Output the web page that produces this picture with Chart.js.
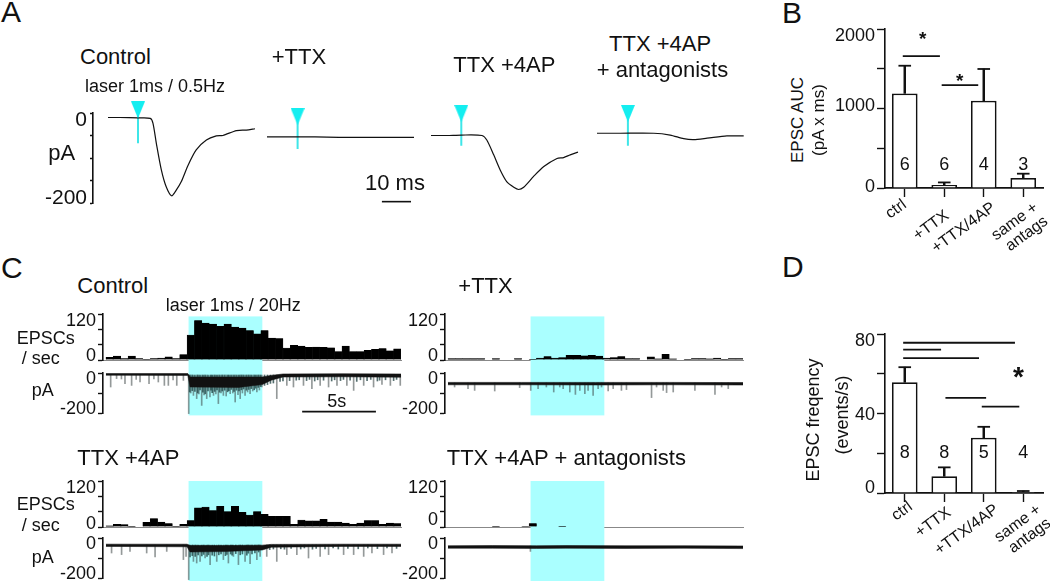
<!DOCTYPE html>
<html>
<head>
<meta charset="utf-8">
<script src="https://cdn.jsdelivr.net/npm/chart.js@4"></script>
<style>
  html, body { margin: 0; padding: 0; background: #fff; width: 1050px; height: 581px; overflow: hidden; }
  canvas { position: absolute; }
  .t { position: absolute; white-space: nowrap; line-height: 1; color: #111; font-family: "Liberation Sans", Arial, sans-serif; }
</style>
</head>
<body>
<script>
// ---------- panel A : evoked EPSC traces (ms, pA)
const aCtrlT = [0, 3.9, 10, 14.1, 15, 16.1, 17.8, 19.4, 21.2, 22.8, 24.4, 26.7, 29.4, 32.8, 36.1, 38.3, 42.8, 46.1, 49];
const aCtrlV = [-10, -10, -11, -12, -23, -67, -127, -164, -184, -171, -153, -116, -82, -60, -51, -50, -39, -38, -35];
const aTtxT = [0, 8, 16, 24, 32, 40, 49];
const aTtxV = [-53, -53, -53, -54, -54, -54, -54];
const aApT = [0, 5.3, 10.1, 17, 18.6, 20.9, 23.1, 25.3, 27.6, 29.2, 30.9, 34.2, 37.6, 42, 44.2, 46.4, 49];
const aApV = [-50, -50, -49, -50, -60, -93, -127, -153, -165, -170, -165, -141, -119, -101, -99, -93, -87];
const aAntT = [0, 7.8, 18.9, 24.4, 28.9, 32.2, 36.7, 43.3, 48.9];
const aAntV = [-45, -45, -45, -49, -57, -59, -56, -51, -51];
// laser mark: time, arrow value, end of stem
const aLaser = { ctrl: [10, 7, -67], ttx: [10.2, -8, -80], ap: [10.1, -1, -73], ant: [10.3, -1, -73] };

// ---------- panels B and D
const groups = ['ctrl', '+TTX', '+TTX/4AP', ['same +', 'antags']];
const aucMean = [1190, 38, 1098, 126];
const aucErr = [1538, 70, 1497, 180];
const aucN = ['6', '6', '4', '3'];
const aucSig = [[-0.05, 0.89, 1660], [0.935, 1.86, 1295]];
const freqMean = [55.7, 8.4, 27.8, 0.5];
const freqErr = [63.3, 12.9, 33.3, 1];
const freqN = ['8', '8', '5', '4'];
const freqSig = [[-0.04, 2.79, 75.6], [-0.04, 0.92, 72.1], [-0.04, 1.88, 67.9], [1.03, 2.06, 47.9], [1.95, 2.9, 43.5]];

// ---------- panel C : histograms, one value per 0.5 s bin
const cCtrlBins = [7, 10, 4, 10, 4, 1, 4, 5, 8, 4, 14, 65, 103, 96, 94, 88, 94, 86, 83, 77, 68, 77, 57, 56, 31, 38, 36, 33, 34, 33, 32, 22, 36, 22, 22, 25, 28, 30, 24, 29];
const cTtxBins = [3.5, 3.5, 3.5, 3.5, 3.5, 0, 3.5, 0, 0, 3.5, 0, 1, 5, 9, 5, 6, 12, 12, 11, 12, 10, 5, 6, 9, 3.5, 3.5, 0, 8, 3, 15, 3, 0, 1, 4, 4, 3, 5, 2, 4, 4];
const cApBins = [3, 7, 6, 2, 0, 12, 22, 13, 9, 1, 7, 17, 50, 52, 43, 54, 40, 54, 38, 31, 40, 33, 28, 28, 28, 7, 18, 16, 16, 20, 13, 13, 10, 7, 10, 17, 17, 7, 10, 9];
const cAntBins = [0, 0, 0, 0, 0, 0, 2, 0, 0, 0, 1.5, 9, 0, 0, 0, 2, 0, 0, 0, 0, 0, 0, 0, 0, 0, 0, 0, 0, 0, 0, 0, 0, 0, 0, 0, 0, 0, 0, 0, 0];
const laserWindow = [5.6, 10.6];

// trace bands (s, pA)
const cCtrlBandT = [0, 5.55, 5.7, 9, 10.6, 11.2, 12, 16, 20];
const cCtrlBandHi = [-3, -3, -20, -20, -20, -12, -5, -4, -5];
const cCtrlBandLo = [-11, -12, -70, -72, -58, -36, -20, -19, -21];
const cTtxBandT = [0, 5, 10, 15, 20];
const cTtxBandHi = [-47, -47, -47, -47, -48];
const cTtxBandLo = [-59, -59, -60, -59, -60];
const cApBandT = [0, 5.5, 5.7, 8, 10.6, 11.2, 16, 20];
const cApBandHi = [-31, -31, -38, -38, -36, -32, -31, -31];
const cApBandLo = [-42, -44, -70, -68, -60, -46, -42, -42];
const cAntBandT = [0, 3, 6, 8, 12, 16, 20];
const cAntBandHi = [-39, -38, -39, -38, -39, -39, -40];
const cAntBandLo = [-51, -51, -52, -51, -52, -51, -53];

// spikes (s, pA)
const cCtrlSpikeT = [0.32, 0.72, 1.05, 1.29, 1.74, 2.05, 2.31, 2.92, 3.25, 3.55, 3.96, 4.23, 4.55, 4.8, 5.25,
  5.61, 5.75, 5.93, 6.15, 6.3, 6.49, 6.65, 6.83, 7.05, 7.29, 7.45, 7.62, 7.8, 7.96, 8.15, 8.42, 8.6, 8.76, 8.95, 9.1, 9.25, 9.43, 9.6, 9.77, 9.95, 10.23, 10.4, 10.57,
  11.58, 12.26, 12.71, 13.39, 13.96, 14.52, 15.09, 15.66, 16.33, 16.79, 17.47, 18.14, 18.71, 19.28, 19.95];
const cCtrlSpikeV = [-70, -28, -30, -53, -62, -32, -45, -53, -30, -45, -62, -62, -35, -62, -37,
  -203, -100, -112, -128, -105, -162, -110, -128, -120, -112, -105, -153, -100, -112, -115, -103, -100, -145, -108, -128, -100, -112, -95, -103, -90, -95, -85, -70,
  -128, -62, -70, -62, -78, -62, -70, -62, -62, -87, -62, -70, -57, -62, -62];
const cCtrlFineT = [5.68, 5.85, 6.03, 6.22, 6.38, 6.57, 6.73, 6.92, 7.12, 7.2, 7.37, 7.53, 7.7, 7.88, 8.05, 8.25, 8.33, 8.5, 8.68, 8.85, 9.02, 9.18, 9.33, 9.52, 9.68, 9.85, 10.05, 10.15, 10.32, 10.48,
  10.75, 10.95, 11.15, 11.35, 11.8, 12.0, 12.45, 12.9, 13.1, 13.6, 13.8, 14.15, 14.35, 14.75, 15.3, 15.5, 15.9, 16.1, 16.55, 17.0, 17.25, 17.7, 17.95, 18.4, 18.55, 18.95, 19.5, 19.7];
const cCtrlFineV = [-95, -88, -92, -100, -85, -96, -104, -90, -86, -98, -92, -84, -96, -90, -86, -94, -88, -82, -92, -86, -90, -84, -80, -86, -82, -78, -84, -76, -72, -68,
  -62, -58, -52, -50, -42, -40, -38, -36, -34, -38, -32, -40, -34, -36, -40, -34, -38, -32, -36, -42, -34, -38, -32, -40, -36, -34, -38, -32];
const cTtxSpikeT = [0.45, 1.36, 1.81, 3.17, 4.86, 5.61, 6.11, 6.67, 7.17, 7.58, 7.81, 8.26, 8.64, 8.94, 9.28, 9.5, 9.84, 10.18, 10.41, 10.86, 11.2, 11.76, 12.1, 13.8, 14.14, 14.59, 14.82, 15.27, 16.74, 18.1, 18.55, 19];
const cTtxSpikeV = [-70, -78, -87, -90, -73, -87, -78, -70, -95, -70, -78, -95, -107, -87, -103, -87, -112, -78, -70, -90, -78, -87, -83, -123, -70, -87, -98, -95, -87, -107, -70, -78];
const cTtxFineT = [];
const cTtxFineV = [];
const cApSpikeT = [0.38, 1.06, 1.63, 2.76, 3.33, 4.12, 5.25, 5.43, 5.61, 5.93, 6.15, 6.38, 6.72, 7.06, 7.51, 7.96, 8.3, 8.64, 8.98, 9.43, 9.77, 10.23, 10.45, 10.9, 11.58, 12.26, 12.94, 13.73, 14.52, 15.09, 16.11, 16.79, 17.47, 18.03, 18.82, 19.39];
const cApSpikeV = [-75, -83, -67, -75, -95, -67, -108, -92, -208, -117, -125, -117, -100, -133, -117, -108, -125, -92, -133, -117, -128, -108, -92, -92, -117, -83, -83, -100, -92, -83, -83, -83, -92, -75, -83, -75];
const cApFineT = [5.7, 5.85, 6.05, 6.25, 6.5, 6.62, 6.85, 6.95, 7.2, 7.35, 7.65, 7.8, 8.1, 8.2, 8.45, 8.55, 8.8, 9.1, 9.25, 9.55, 9.65, 9.9, 10.1, 10.35,
  11.1, 11.35, 11.85, 12.1, 12.55, 13.2, 13.45, 14.0, 14.25, 14.85, 15.4, 15.75, 16.4, 17.1, 17.75, 18.4, 19.05, 19.7];
const cApFineV = [-95, -88, -92, -85, -90, -82, -92, -84, -86, -90, -84, -80, -88, -82, -80, -86, -78, -84, -80, -86, -76, -80, -74, -70,
  -58, -55, -54, -56, -52, -55, -50, -56, -52, -54, -50, -55, -52, -54, -50, -53, -50, -52];
const cAntSpikeT = [5.59];
const cAntSpikeV = [-67];
const cAntFineT = [];
const cAntFineV = [];

// rotated group labels: end of text relative to the tick and the axis
const aucLabelAt = [[0, 15], [3, 26], [10, 18], [13, 18]];
const freqLabelAt = [[6, 12], [5, 18], [13, 15], [16, 15]];

// ---------- helpers
function addChart(box, config) {
  const c = document.createElement('canvas');
  const W = box.l + box.w + box.r, H = box.t + box.h + box.b;
  c.width = W; c.height = H;
  c.style.left = (box.x - box.l) + 'px';
  c.style.top = (box.y - box.t) + 'px';
  c.style.width = W + 'px';
  c.style.height = H + 'px';
  document.body.appendChild(c);
  config.options.responsive = false;
  config.options.animation = false;
  config.options.devicePixelRatio = 1;
  config.options.layout.autoPadding = false;
  config.options.plugins = { legend: { display: false }, tooltip: { enabled: false } };
  return new Chart(c.getContext('2d'), config);
}

function txt(s, x, y, size, rot, weight) {
  const d = document.createElement('div');
  d.className = 't';
  d.textContent = s;
  d.style.left = x + 'px';
  d.style.top = y + 'px';
  d.style.fontSize = size + 'px';
  if (weight) d.style.fontWeight = weight;
  d.style.transform = rot ? 'translate(-50%,-50%) rotate(' + rot + 'deg)' : 'translateY(-50%)';
  document.body.appendChild(d);
}

// labels = { value: [text, shift in px] }, the figure has them a little off their tick.
// An empty line above or below the text makes that shift.
function bracketAxis(min, max, step, labels, size, tick, width, pad) {
  return {
    min: min, max: max,
    afterFit: s => { s.width = width; },
    border: { color: '#111', width: 1.6 },
    grid: { drawOnChartArea: false, tickColor: '#111', tickLength: tick, tickWidth: 1.4 },
    ticks: {
      stepSize: step, padding: pad || 2, color: '#111', autoSkip: false,
      font: ctx => {
        const l = ctx.tick ? labels[ctx.tick.value] : null;
        const shift = l ? Math.abs(l[1]) : 0;
        return { family: 'Liberation Sans', size: size, lineHeight: shift ? 2 * shift / size : 1.2 };
      },
      callback: v => {
        const l = labels[v];
        if (!l) return '';
        return l[1] > 0 ? ['', l[0]] : l[1] < 0 ? [l[0], ''] : l[0];
      }
    }
  };
}

const arrow = document.createElement('canvas');
arrow.width = 14; arrow.height = 17;
{
  const g = arrow.getContext('2d');
  g.fillStyle = '#14eef0';
  g.beginPath(); g.moveTo(0, 0); g.lineTo(14, 0); g.lineTo(7, 17); g.closePath(); g.fill();
}

// ---------- panel A
function traceA(x, withAxis, tv, vv, mark, extra) {
  const ds = [
    { data: [{ x: mark[0], y: mark[1] }], pointStyle: arrow, pointRadius: 8, showLine: false, clip: false },
    { data: tv.map((t, i) => ({ x: t, y: vv[i] })), borderColor: '#111', borderWidth: 1.2, pointRadius: 0, tension: 0.25, clip: false },
    { data: [{ x: mark[0], y: mark[1] }, { x: mark[0], y: mark[2] }], borderColor: '#3fe6e8', borderWidth: 2, pointRadius: 0, clip: false }
  ].concat(extra || []);
  const xMin = withAxis ? -5 : 0;
  addChart({ x: x, y: 113, w: (49 - xMin) * 3, h: 90, l: withAxis ? 60 : 2, r: 2, t: 18, b: 18 }, {
    type: 'line',
    data: { datasets: ds },
    options: {
      layout: { padding: { left: withAxis ? 0 : 2, right: 2, top: 18, bottom: 18 } },
      scales: {
        x: { type: 'linear', display: false, min: xMin, max: 49 },
        y: withAxis
          ? bracketAxis(-200, 0, 50, { '0': ['0', 7], '-200': ['-200', -5] }, 21, 3, 60, 3)
          : { display: false, min: -200, max: 0 }
      }
    }
  });
}
traceA(93, true, aCtrlT, aCtrlV, aLaser.ctrl);
traceA(267, false, aTtxT, aTtxV, aLaser.ttx, [
  { data: [{ x: 38.3, y: -197 }, { x: 48, y: -197 }], borderColor: '#111', borderWidth: 1.6, pointRadius: 0, clip: false }
]);
traceA(431, false, aApT, aApV, aLaser.ap);
traceA(597, false, aAntT, aAntV, aLaser.ant);

// ---------- panels B and D
function barPanel(y, h, yMax, step, labels, mean, err, ns, nY, sig, labelAt) {
  const numbers = {
    id: 'numbers',
    afterDatasetsDraw(ch) {
      const g = ch.ctx, sx = ch.scales.x, sy = ch.scales.y;
      g.save();
      g.fillStyle = '#111';
      g.textBaseline = 'middle';
      g.font = '18px "Liberation Sans"';
      g.textAlign = 'center';
      ns.forEach((n, i) => g.fillText(n, sx.getPixelForValue(i), sy.getPixelForValue(nY)));
      // group names are not anchored the same way from one to the next
      g.font = '16px "Liberation Sans"';
      g.textAlign = 'right';
      groups.forEach((name, i) => {
        g.save();
        g.translate(sx.getPixelForValue(i) + labelAt[i][0], sy.getPixelForValue(0) + labelAt[i][1]);
        g.rotate(-36 * Math.PI / 180);
        [].concat(name).forEach((line, k) => g.fillText(line, 0, k * 17));
        g.restore();
      });
      g.restore();
    }
  };
  const sigSets = sig.map(s => ({
    type: 'line', xAxisID: 'xs',
    data: [{ x: s[0], y: s[2] }, { x: s[1], y: s[2] }],
    borderColor: '#111', borderWidth: 1.8, pointRadius: 0, clip: false
  }));
  addChart({ x: 885, y: y, w: 158, h: h, l: 60, r: 7, t: 18, b: 75 }, {
    type: 'bar',
    data: {
      labels: groups,
      datasets: sigSets.concat([
        { xAxisID: 'x', data: mean, backgroundColor: '#fff', borderColor: '#111', borderWidth: 1.8, grouped: false, barPercentage: 0.65, categoryPercentage: 1, clip: false },
        { xAxisID: 'x', type: 'line', data: err, showLine: false, pointStyle: 'line', pointRadius: 6.3, pointBorderColor: '#111', pointBorderWidth: 1.8, clip: false },
        { xAxisID: 'x', data: mean.map((m, i) => [m, err[i]]), backgroundColor: '#111', barThickness: 1.8, grouped: false, clip: false }
      ])
    },
    plugins: [numbers],
    options: {
      layout: { padding: { top: 18, right: 7 } },
      scales: {
        x: {
          afterFit: s => { s.height = 75; },
          border: { color: '#111', width: 1.8 },
          grid: { drawOnChartArea: false, offset: false, tickColor: '#111', tickLength: 9, tickWidth: 1.4 },
          ticks: { display: false }
        },
        xs: { type: 'linear', display: false, offset: false, min: -0.5, max: 3.5 },
        y: bracketAxis(0, yMax, step, labels, 18, 8, 60)
      }
    }
  });
}
barPanel(29, 159, 2000, 500, { '2000': ['2000', 7], '1000': ['1000', -2], '0': ['0', -1] }, aucMean, aucErr, aucN, 284, aucSig, aucLabelAt);
barPanel(334, 159, 80, 20, { '80': ['80', 7], '40': ['40', 2], '0': ['0', -5] }, freqMean, freqErr, freqN, 20.25, freqSig, freqLabelAt);

// ---------- panel C
function histPanel(x, y, bins, cyanTop, cyanBottom, zeroShift) {
  const laser = {
    id: 'laser',
    beforeDatasetsDraw(ch) {
      const sx = ch.scales.x, sy = ch.scales.y, g = ch.ctx;
      g.save();
      g.fillStyle = '#aaffff';
      const x0 = sx.getPixelForValue(laserWindow[0]), x1 = sx.getPixelForValue(laserWindow[1]);
      const y0 = sy.getPixelForValue(cyanTop), y1 = sy.getPixelForValue(cyanBottom);
      g.fillRect(x0, y0, x1 - x0, y1 - y0);
      g.restore();
    }
  };
  addChart({ x: x, y: y, w: 298, h: 46, l: 70, r: 4, t: 16, b: 62 }, {
    type: 'bar',
    data: {
      datasets: [{
        data: bins.map((v, i) => ({ x: i * 0.5 + 0.25, y: v })),
        backgroundColor: '#000', borderColor: '#000', borderWidth: 0.4,
        barPercentage: 1, categoryPercentage: 1
      }]
    },
    plugins: [laser],
    options: {
      layout: { padding: { top: 16, right: 4, bottom: 62 } },
      scales: {
        x: {
          type: 'linear', offset: false, min: -0.2, max: 20,
          afterFit: s => { s.height = 0; },
          border: { color: '#888', width: 1 },
          grid: { drawOnChartArea: false, drawTicks: false, offset: false },
          ticks: { display: false }
        },
        y: bracketAxis(0, 120, 40, { '120': ['120', 7], '0': ['0', zeroShift] }, 18, 5, 70)
      }
    }
  });
}

function tracePanel(x, y, bandT, hi, lo, spikeT, spikeV, fineT, fineV, base, extra) {
  const ds = [
    { type: 'line', data: bandT.map((t, i) => ({ x: t, y: hi[i] })), borderColor: '#111', borderWidth: 0.6, pointRadius: 0, fill: 1, backgroundColor: '#111', clip: false },
    { type: 'line', data: bandT.map((t, i) => ({ x: t, y: lo[i] })), borderColor: '#222', borderWidth: 0.6, pointRadius: 0, clip: false },
    { data: fineT.map((t, i) => ({ x: t, y: [base, fineV[i]] })), backgroundColor: 'rgba(25,60,60,0.75)', barThickness: 1, grouped: false, clip: false },
    { data: spikeT.map((t, i) => ({ x: t, y: [base, spikeV[i]] })), backgroundColor: 'rgba(60,70,70,0.55)', barThickness: 1, grouped: false, clip: false }
  ].concat(extra || []);
  addChart({ x: x, y: y, w: 298, h: 40, l: 70, r: 4, t: 16, b: 16 }, {
    type: 'bar',
    data: { datasets: ds },
    options: {
      layout: { padding: { top: 16, right: 4, bottom: 16 } },
      scales: {
        x: { type: 'linear', display: false, offset: false, min: -0.2, max: 20 },
        y: bracketAxis(-200, 0, 100, { '0': ['0', 6], '-200': ['-200', -4] }, 18, 5, 70)
      }
    }
  });
}

histPanel(103, 314, cCtrlBins, 113.7, -144.5, -4);
tracePanel(103, 373, cCtrlBandT, cCtrlBandHi, cCtrlBandLo, cCtrlSpikeT, cCtrlSpikeV, cCtrlFineT, cCtrlFineV, -10, [
  { type: 'line', data: [{ x: 13.3, y: -193 }, { x: 18.3, y: -193 }], borderColor: '#111', borderWidth: 1.6, pointRadius: 0, clip: false }
]);
histPanel(445, 314, cTtxBins, 113.7, -144.5, -4);
tracePanel(445, 373, cTtxBandT, cTtxBandHi, cTtxBandLo, cTtxSpikeT, cTtxSpikeV, cTtxFineT, cTtxFineV, -50);
histPanel(103, 481, cApBins, 120, -141, -3);
tracePanel(103, 538, cApBandT, cApBandHi, cApBandLo, cApSpikeT, cApSpikeV, cApFineT, cApFineV, -35);
histPanel(445, 481, cAntBins, 120, -141, -7);
tracePanel(445, 538, cAntBandT, cAntBandHi, cAntBandLo, cAntSpikeT, cAntSpikeV, cAntFineT, cAntFineV, -40);

// ---------- text
txt('A', 1, 12, 30);
txt('B', 782, 13, 30);
txt('C', 1, 268, 30);
txt('D', 782, 267, 30);

txt('Control', 80, 57, 22);
txt('laser 1ms / 0.5Hz', 85, 86, 18);
txt('+TTX', 271.7, 57, 22);
txt('TTX +4AP', 453.3, 65, 22);
txt('TTX +4AP', 609, 44, 22);
txt('+ antagonists', 596.7, 70, 22);
txt('pA', 48.3, 153, 22);
txt('10 ms', 365, 183, 22);

txt('EPSC AUC', 796.7, 120, 17, -90);
txt('(pA x ms)', 818, 120, 17, -90);
txt('*', 919, 38, 19, 0, 'bold');
txt('*', 956, 80, 19, 0, 'bold');

txt('Control', 77.3, 285.7, 22);
txt('laser 1ms / 20Hz', 165.7, 305, 18);
txt('EPSCs', 16.7, 337.7, 18);
txt('/ sec', 21.7, 358.3, 18);
txt('pA', 31.7, 390, 18);
txt('5s', 327.3, 401, 18);
txt('+TTX', 458.3, 285.7, 22);
txt('TTX +4AP', 77.3, 457.7, 22);
txt('EPSCs', 16.7, 504.3, 18);
txt('/ sec', 21.7, 525, 18);
txt('pA', 31.7, 556.7, 18);
txt('TTX +4AP + antagonists', 446.7, 457.7, 22);

txt('EPSC freqency', 812.7, 420, 18, -90);
txt('(events/s)', 841.7, 415, 18, -90);
txt('*', 1013, 377, 28, 0, 'bold');
</script>
</body>
</html>
